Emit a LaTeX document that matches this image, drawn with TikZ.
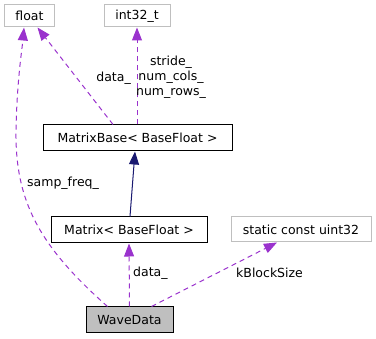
\documentclass[tikz,border=0pt]{standalone}
\usepackage{fontspec}
\setmainfont{DejaVu Sans}
\usetikzlibrary{arrows.meta,calc}
\definecolor{depcol}{HTML}{9A32CD}
\definecolor{inhcol}{HTML}{191970}
\definecolor{extgray}{HTML}{BFBFBF}
\tikzset{
  every node/.style={font=\fontsize{12.5}{15}\selectfont, inner sep=0pt},
  extbox/.style={draw=extgray, line width=1pt, fill=white},
  clsbox/.style={draw=black, line width=1pt, fill=white},
  curbox/.style={draw=black, line width=1pt, fill=extgray},
  dep/.style={draw=depcol, line width=1pt, dash pattern=on 5pt off 4pt,
    -{Triangle[length=13pt,width=10pt,fill=depcol]}},
  inh/.style={draw=inhcol, line width=1pt,
    -{Triangle[length=13pt,width=10pt,fill=inhcol]}},
  lbl/.style={text=black, align=center}
}
\begin{document}
\begin{tikzpicture}[x=1pt,y=-1pt]
  \useasboundingbox (0,0) rectangle (376,339);
  % class boxes
  \node[extbox, minimum width=49pt, minimum height=22pt] (fl) at (29.5,16) {float};
  \node[extbox, minimum width=66pt, minimum height=22pt] (it) at (137,16) {int32\_t};
  \node[clsbox, minimum width=189pt, minimum height=26pt] (mb) at (137.5,138) {MatrixBase< BaseFloat >};
  \node[clsbox, minimum width=156pt, minimum height=26pt] (mx) at (129,230) {Matrix< BaseFloat >};
  \node[extbox, minimum width=140pt, minimum height=25pt] (sc) at (301,229.5) {static const uint32};
  \node[curbox, minimum width=87pt, minimum height=26pt] (wd) at (129.5,320) {WaveData};

  % attachment points
  \coordinate (wdL) at ($(wd.north)+(-22,0)$);
  \coordinate (wdR) at ($(wd.north)+(22,0)$);
  \coordinate (flA) at ($(fl.south)+(-5.5,0)$);
  \coordinate (flB) at ($(fl.south)+(8,0)$);
  \coordinate (mbL) at ($(mb.north)+(-24.5,0)$);
  \coordinate (scS) at ($(sc.south)+(-24,0)$);

  % inheritance
  \draw[inh] ($(mx.north)+(1,0)$) -- ($(mb.south)+(-2.5,0)$);

  % usage relations
  \draw[dep] (wd.north) -- (mx.south);
  \draw[dep] (wdR) -- (scS);
  \draw[dep] (wdL) .. controls (38,245) and (15,200) .. (16,130)
                   .. controls (17,80) and (22,50) .. (flA);
  \draw[dep] (mbL) -- (flB);
  \draw[dep] ($(mb.north)+(-0.5,0)$) -- (it.south);

  % labels
  \node[lbl, anchor=east] (l1) at (131,78) {data\_};
  \node[lbl] (l2) at (171,77) {stride\_\\num\_cols\_\\num\_rows\_};
  \node[lbl, anchor=west] (l3) at (27,183) {samp\_freq\_};
  \node[lbl, anchor=west] (l4) at (133,273) {data\_};
  \node[lbl, anchor=west] (l5) at (236,273) {kBlockSize};
\end{tikzpicture}
\end{document}
